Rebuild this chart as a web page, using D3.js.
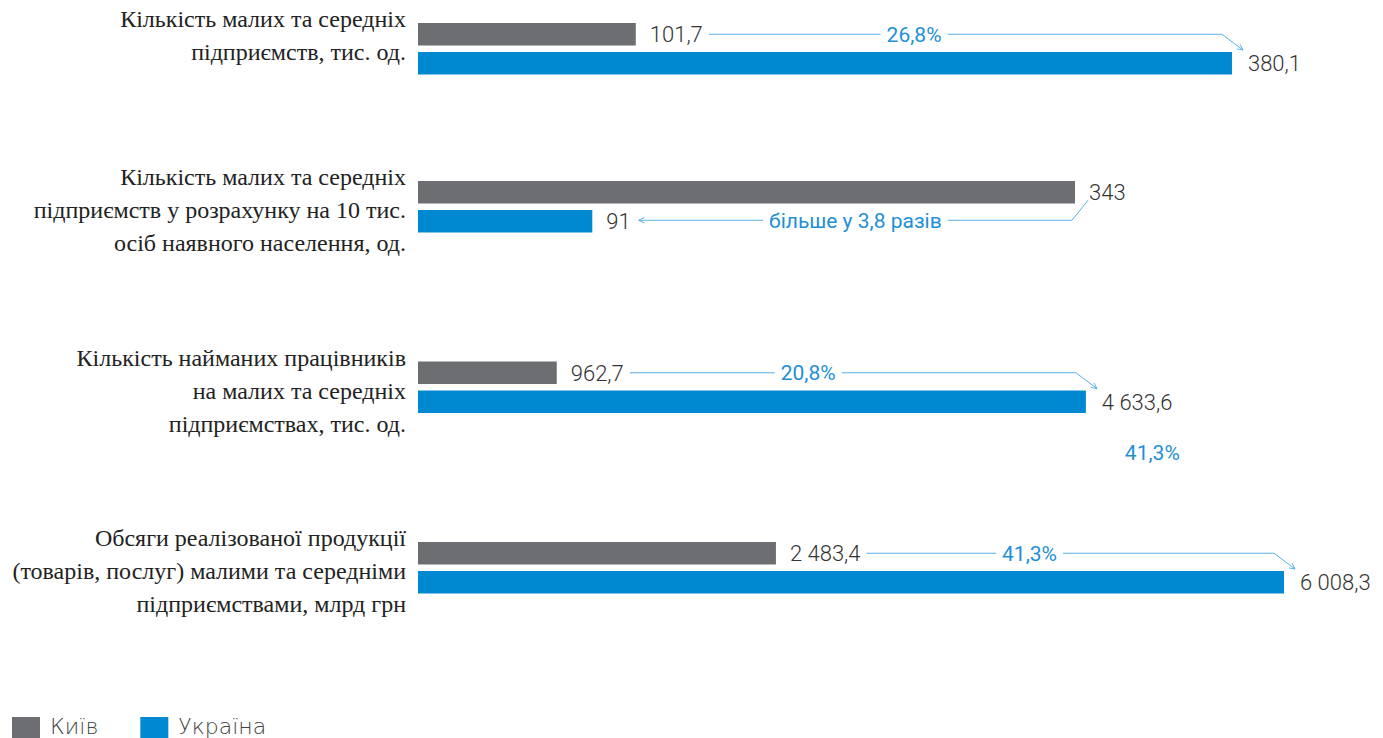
<!DOCTYPE html>
<html><head><meta charset="utf-8">
<script src="https://cdn.jsdelivr.net/npm/d3@7"></script>
<style>
html,body{margin:0;padding:0;background:#fff;overflow:hidden}
svg{display:block}
</style></head>
<body>
<svg id="chart" width="1383" height="738"></svg>
<script>
// ---- data ----
const categories = [
  ["Кількість малих та середніх", "підприємств, тис. од."],
  ["Кількість малих та середніх", "підприємств у розрахунку на 10 тис.", "осіб наявного населення, од."],
  ["Кількість найманих працівників", "на малих та середніх", "підприємствах, тис. од."],
  ["Обсяги реалізованої продукції", "(товарів, послуг) малими та середніми", "підприємствами, млрд грн"]
];
const seriesNames = ["Київ", "Україна"];
const kyiv    = [101.7, 343, 962.7, 2483.4];
const ukraine = [380.1, 91, 4633.6, 6008.3];
const ratioLabels = ["26,8%", "більше у 3,8 разів", "20,8%", "41,3%"];
const scaleMax = [404.4, 452.1, 6008.3, 6008.3];   // each group drawn on its own scale
const strayLabel = "41,3%";

// ---- style ----
const GRAY = "#6d6e72", BLUE = "#0088d1", TXT = "#333333", ABLUE = "#1f8fd6", LINE = "#5cb0e6";
const uk = d3.formatLocale({decimal: ",", thousands: " ", grouping: [3], currency: ["", ""]});
const fmt = v => Number.isInteger(v) ? uk.format(",d")(v) : uk.format(",.1f")(v);

const svg = d3.select("#chart");
const defs = svg.append("defs");
defs.append("marker").attr("id", "arr").attr("viewBox", "0 0 10 10")
  .attr("refX", 9).attr("refY", 5).attr("markerWidth", 7).attr("markerHeight", 7)
  .attr("orient", "auto-start-reverse")
  .append("path").attr("d", "M1,1 L9,5 L1,9").attr("fill", "none").attr("stroke", LINE).attr("stroke-width", 1.4);

const x0 = 418, W = 866;
const barH = 22.5, pitch = 29;
// vertical layout: blocks stacked, height depends on the number of label lines
const blockH = n => 113 + 22.5 * n;
const tops = [];
categories.reduce((acc, c) => { tops.push(acc); return acc + blockH(c.length); }, 23);

const scales = scaleMax.map(m => d3.scaleLinear().domain([0, m]).range([x0, x0 + W]));

const valFont = "Roboto, 'Open Sans', sans-serif";

categories.forEach((lines, i) => {
  const g = svg.append("g");
  const xs = scales[i];
  const yG = tops[i], yB = tops[i] + pitch;
  const cG = yG + barH / 2, cB = yB + barH / 2;
  const xG = xs(kyiv[i]), xB = xs(ukraine[i]);

  // category label
  const t = g.append("text").attr("text-anchor", "end")
    .attr("font-family", "'Liberation Serif', 'Times New Roman', serif")
    .attr("font-size", 24).attr("fill", "#222");
  lines.forEach((l, k) => t.append("tspan").attr("x", 406).attr("y", yG - 4 + k * 33).attr("dy", "0.35em").text(l));

  // bars
  g.append("rect").attr("x", x0).attr("y", yG).attr("width", xG - x0).attr("height", barH).attr("fill", GRAY);
  g.append("rect").attr("x", x0).attr("y", yB).attr("width", xB - x0).attr("height", barH).attr("fill", BLUE);

  // value labels
  const lg = g.append("text").attr("x", xG + 14).attr("y", cG).attr("dy", "0.36em")
    .attr("font-family", valFont).attr("font-weight", 300).attr("font-size", 22).attr("fill", TXT).text(fmt(kyiv[i]));
  const lb = g.append("text").attr("x", xB + 16).attr("y", cB).attr("dy", "0.36em")
    .attr("font-family", valFont).attr("font-weight", 300).attr("font-size", 22).attr("fill", TXT).text(fmt(ukraine[i]));

  const rt = g.append("text").attr("text-anchor", "middle").attr("dy", "0.36em")
    .attr("font-family", valFont).attr("font-size", 21).attr("fill", ABLUE).text(ratioLabels[i]);
  const rw = rt.node().getComputedTextLength();

  if (ukraine[i] > kyiv[i]) {
    const xs0 = xG + 14 + lg.node().getComputedTextLength() + 6;
    const xe = xB - 10;
    const yL = cG;
    const xc = xs0 + 0.4 * (xe - xs0);
    rt.attr("x", xc).attr("y", yL);
    g.append("line").attr("x1", xs0).attr("x2", xc - rw / 2 - 6).attr("y1", yL).attr("y2", yL)
      .attr("stroke", LINE).attr("stroke-width", 1);
    g.append("path").attr("d", `M${xc + rw / 2 + 6},${yL} L${xe},${yL} L${xB + 11},${yB - 2}`)
      .attr("fill", "none").attr("stroke", LINE).attr("stroke-width", 1).attr("marker-end", "url(#arr)");
  } else {
    const xStart = xG + 13, yStart = cG + 8;
    const xKnee = xG - 3, yL = cB - 1;
    const xEnd = xB + 14 + lb.node().getComputedTextLength() + 8;
    const xc = (xKnee + xEnd) / 2;
    rt.attr("x", xc).attr("y", yL);
    g.append("path").attr("d", `M${xStart},${yStart} L${xKnee},${yL} L${xc + rw / 2 + 6},${yL}`)
      .attr("fill", "none").attr("stroke", LINE).attr("stroke-width", 1);
    g.append("line").attr("x1", xc - rw / 2 - 6).attr("x2", xEnd).attr("y1", yL).attr("y2", yL)
      .attr("stroke", LINE).attr("stroke-width", 1).attr("marker-end", "url(#arr)");
    lb.attr("x", xB + 14);
  }

  if (i === 2) {
    svg.append("text").attr("x", xB + 39).attr("y", cB + 51).attr("dy", "0.36em")
      .attr("font-family", valFont).attr("font-size", 21).attr("fill", ABLUE).text(strayLabel);
  }
});

// legend
const leg = svg.append("g");
let lx = 12;
[GRAY, BLUE].forEach((c, k) => {
  leg.append("rect").attr("x", lx).attr("y", 717).attr("width", 28).attr("height", 21).attr("fill", c);
  const tx = leg.append("text").attr("x", lx + 38).attr("y", 734)
    .attr("font-family", "'DejaVu Sans', sans-serif").attr("font-weight", 200).attr("font-size", 22)
    .attr("fill", "#444").text(seriesNames[k]);
  lx = lx + 38 + tx.node().getComputedTextLength() + 42;
});
</script>
</body></html>
